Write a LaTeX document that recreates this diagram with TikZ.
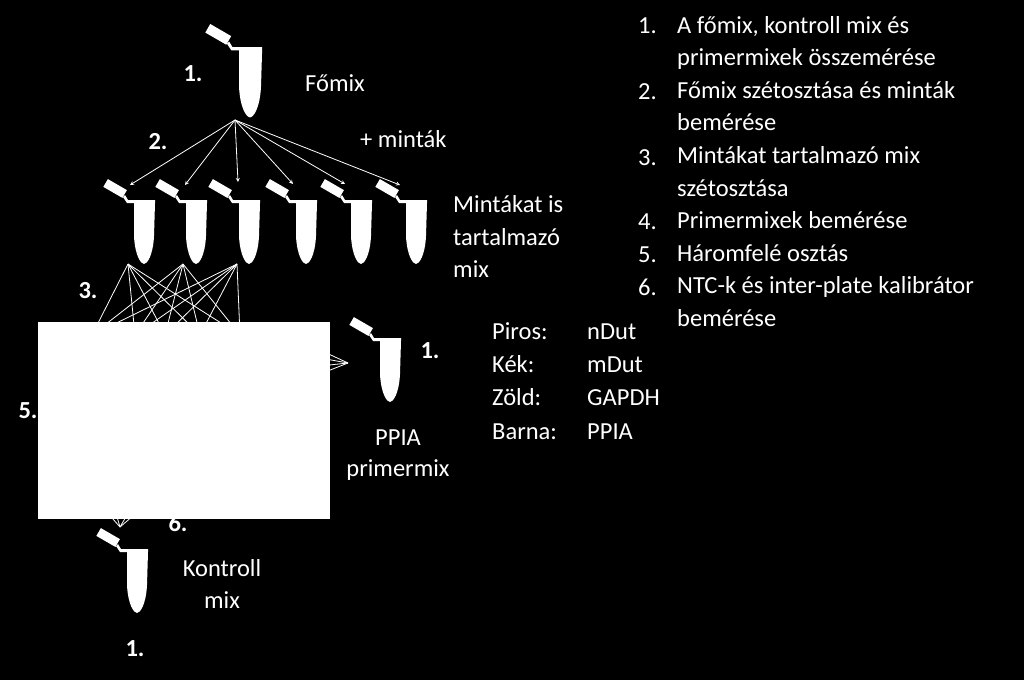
\documentclass[tikz,border=0pt]{standalone}
\usepackage{fontspec}
\setmainfont{Carlito}
\begin{document}
\begin{tikzpicture}[x=1pt,y=-1pt,
  lbl/.style={text=white,font=\fontsize{24.5}{30}\selectfont,inner sep=0pt},
  num/.style={lbl,font=\fontsize{24.5}{30}\selectfont\bfseries},
  wire/.style={white,line width=0.8pt},
  tube/.pic={
    \fill[white] (-16,0) -- (11,0) -- (11,3) -- (10,36)
      .. controls (9,56) and (3,64) .. (0,64)
      .. controls (-3,64) and (-9,56) .. (-10,36) -- (-10,3) -- (-17,3) -- (-21,-3) -- (-19,-5) -- cycle;
    \fill[white,shift={(-28,-11)},rotate=-30] (-12,-4.5) rectangle (10,4.5);
  }]
  \fill[black] (0,0) rectangle (1024,680);
  % tubes
  \pic[scale=1.1] at (250,47) {tube};
  \foreach \x in {144,196,249,306,361,416} \pic at (\x,200) {tube};
  \pic at (390,338) {tube};
  \pic at (137,549) {tube};
  \coordinate (fo) at (235,120);
  % 2. arrows
  \foreach \x/\y in {130/185,185/185,238/182,293/184,345/184,400/185}
    \draw[wire,->,>=stealth] (fo) -- (\x,\y);
  % 3. mixing wires
  \foreach \s in {128,183,237}
    \foreach \t in {92,135,165,200,240}
      \draw[wire] (\s,264) -- (\t,335);
  \coordinate (pp) at (348,363);
  \foreach \y in {350,358,366,374}
    \draw[wire] (pp) -- (320,\y);
  \coordinate (ko) at (120,527);
  \foreach \x in {105,115,130,140}
    \draw[wire] (ko) -- (\x,510);
  % blank panel
  \fill[white] (38,322) rectangle (330,519);
  % labels
  \node[num,anchor=base] at (193,81) {1.};
  \node[lbl,anchor=base west] at (305,91) {Főmix};
  \node[num,anchor=base] at (158,149) {2.};
  \node[lbl,anchor=base west] at (360,147) {+ minták};
  \node[lbl,anchor=base west] at (453,212) {Mintákat is};
  \node[lbl,anchor=base west] at (453,245) {tartalmazó};
  \node[lbl,anchor=base west] at (453,277) {mix};
  \node[num,anchor=base] at (88,298) {3.};
  \node[num,anchor=base] at (28,418) {5.};
  \node[num,anchor=base] at (430,358) {1.};
  \node[lbl,anchor=base] at (398,445) {PPIA};
  \node[lbl,anchor=base] at (398,476) {primermix};
  \node[num,anchor=base] at (178,531) {6.};
  \node[lbl,anchor=base] at (222,576) {Kontroll};
  \node[lbl,anchor=base] at (222,608) {mix};
  \node[num,anchor=base] at (135,656) {1.};
  \foreach \k/\v [count=\i] in {Piros:/nDut,Kék:/mDut,Zöld:/GAPDH,Barna:/PPIA} {
    \node[lbl,anchor=base west] at (492,306+33.3*\i) {\k};
    \node[lbl,anchor=base west] at (587,306+33.3*\i) {\v};
  }
  \foreach \n/\y in {1/33,2/99,3/165,4/229,5/262,6/295}
    \node[lbl,anchor=base west] at (638,\y) {\n.};
  \foreach \t [count=\i] in {{A főmix, kontroll mix és},primermixek összemérése,Főmix szétosztása és minták,bemérése,Mintákat tartalmazó mix,szétosztása,Primermixek bemérése,Háromfelé osztás,NTC-k és inter-plate kalibrátor,bemérése}
    \node[lbl,anchor=base west] at (677,0.5+32.6*\i) {\t};
\end{tikzpicture}
\end{document}
